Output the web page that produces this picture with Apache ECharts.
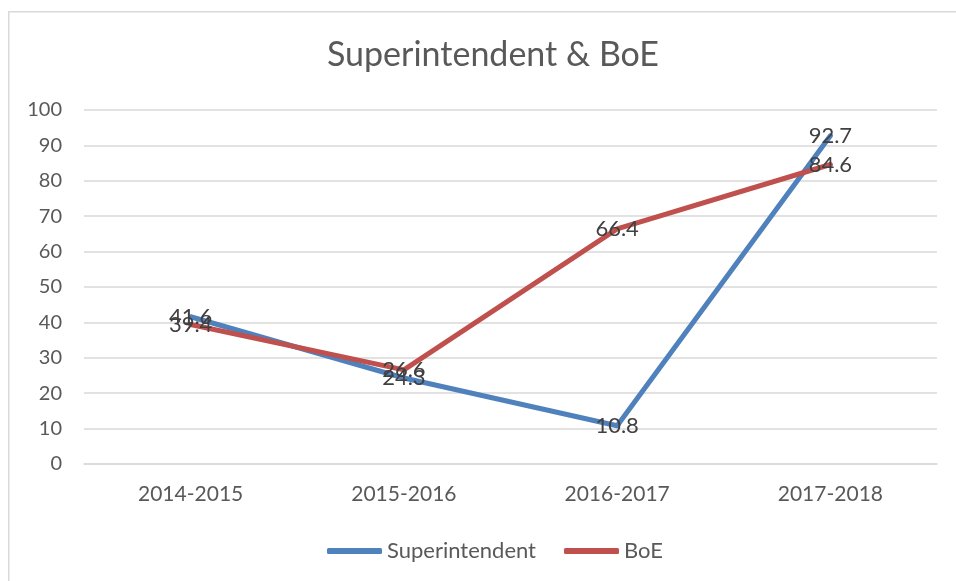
<!DOCTYPE html>
<html>
<head>
<meta charset="utf-8">
<script src="https://cdn.jsdelivr.net/npm/echarts@6/dist/echarts.min.js"></script>
<style>html,body{margin:0;padding:0;background:#fff}#c{width:956px;height:581px}</style>
</head>
<body>
<div id="c"></div>
<script>
const categories = ['2014-2015', '2015-2016', '2016-2017', '2017-2018'];
const superintendent = [41.6, 24.3, 10.8, 92.7];
const boe = [39.4, 26.6, 66.4, 84.6];
const yTicks = [0, 10, 20, 30, 40, 50, 60, 70, 80, 90, 100];

const FONT = 'Lato';
const chart = echarts.init(document.getElementById('c'), null, {renderer: 'canvas'});
const labelCfg = {show: true, position: 'inside', color: '#404040', fontFamily: FONT, fontSize: 22};
chart.setOption({
  animation: false,
  backgroundColor: '#fff',
  graphic: [{
    type: 'rect', left: 8, top: 11, z: -10,
    shape: {x: 0, y: 0, width: 1000, height: 1000},
    style: {fill: '#fff', stroke: '#d9d9d9', lineWidth: 1.5}
  }],
  title: {
    text: 'Superintendent & BoE', left: 322, top: 33,
    textStyle: {fontFamily: FONT, fontSize: 34, fontWeight: 'normal', color: '#595959'}
  },
  legend: {
    top: 535, left: 322, itemWidth: 55, itemHeight: 6, itemGap: 28,
    icon: 'roundRect',
    textStyle: {fontFamily: FONT, fontSize: 22, color: '#595959'},
    data: ['Superintendent', 'BoE']
  },
  grid: {left: 84, right: 19, top: 110, bottom: 117, containLabel: false},
  xAxis: {
    type: 'category', data: categories, boundaryGap: true,
    axisLine: {show: true, lineStyle: {color: '#d9d9d9', width: 1.5}},
    axisTick: {show: false},
    axisLabel: {fontFamily: FONT, fontSize: 21, color: '#595959', margin: 20}
  },
  yAxis: {
    type: 'value', min: yTicks[0], max: yTicks[yTicks.length - 1], interval: 10,
    axisLine: {show: false}, axisTick: {show: false},
    splitLine: {lineStyle: {color: '#d9d9d9', width: 1.5}},
    axisLabel: {fontFamily: FONT, fontSize: 20, color: '#595959', margin: 22}
  },
  series: [
    {
      name: 'Superintendent', type: 'line', data: superintendent,
      symbol: 'circle', symbolSize: 1, showSymbol: true,
      itemStyle: {color: '#4F81BD'},
      lineStyle: {color: '#4F81BD', width: 5, cap: 'round', join: 'round'},
      label: labelCfg
    },
    {
      name: 'BoE', type: 'line', data: boe,
      symbol: 'circle', symbolSize: 1, showSymbol: true,
      itemStyle: {color: '#C0504D'},
      lineStyle: {color: '#C0504D', width: 5, cap: 'round', join: 'round'},
      label: labelCfg
    }
  ]
});
</script>
</body>
</html>
